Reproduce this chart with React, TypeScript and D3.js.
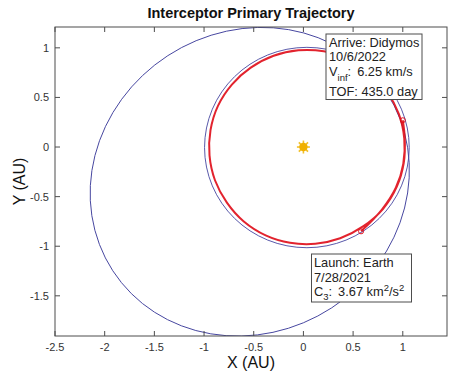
import React from 'react';
import * as d3 from 'd3';

// chart values
const xTicks = [-2.5, -2, -1.5, -1, -0.5, 0, 0.5, 1];
const xTickLabels = ['-2.5', '-2', '-1.5', '-1', '-0.5', '0', '0.5', '1'];
const yTicks = [-1.5, -1, -0.5, 0, 0.5, 1];
const yTickLabels = ['-1.5', '-1', '-0.5', '0', '0.5', '1'];
const xDomain = [-2.5, 1.445];
const yDomain = [-1.905, 1.21];

// orbits: centre, semi axes (AU), tilt (deg)
const orbitNames = ['Earth', 'Didymos'];
const orbitCx = [0.035, -0.54];
const orbitCy = [-0.005, -0.35];
const orbitA = [1.03, 1.644];
const orbitB = [1.01, 1.516];
const orbitTilt = [0, 33];

// transfer trajectory (AU)
const trajX = [0.58, 0.79, 0.93, 1.005, 1.015, 0.96, 0.84, 0.67, 0.45, 0.205, -0.05, -0.3, -0.53, -0.72, -0.86, -0.935, -0.945, -0.89, -0.77, -0.6, -0.38, -0.135, 0.12, 0.37, 0.6, 0.8, 0.94, 1.01, 1.02, 1.0];
const trajY = [-0.85, -0.63, -0.41, -0.17, 0.085, 0.335, 0.56, 0.75, 0.89, 0.965, 0.975, 0.92, 0.8, 0.63, 0.415, 0.17, -0.085, -0.335, -0.56, -0.75, -0.89, -0.965, -0.975, -0.92, -0.8, -0.625, -0.4, -0.16, 0.09, 0.27];

const launchPoint = [0.58, -0.85];
const arrivePoint = [1.0, 0.27];

const W = 474, H = 375;
const margin = { left: 55, right: 27, top: 27, bottom: 39 };
const font = 'Liberation Sans, Arial, Helvetica, sans-serif';

export default function App() {
  const x = d3.scaleLinear().domain(xDomain).range([margin.left, W - margin.right]);
  const y = d3.scaleLinear().domain(yDomain).range([H - margin.bottom, margin.top]);
  const x0 = margin.left, x1 = W - margin.right, y0 = margin.top, y1 = H - margin.bottom;

  const line = d3.line<number>()
    .x((_, i) => x(trajX[i]))
    .y((_, i) => y(trajY[i]))
    .curve(d3.curveCatmullRom);

  const sx = (v: number) => x(v) - x(0);
  const sy = (v: number) => y(0) - y(v);

  const axisColor = '#4d4d4d';
  const tickLen = 5;
  const blue = '#4646a0';
  const red = '#e0101c';

  // sun rays
  const rays = d3.range(8).map(i => (i * Math.PI) / 4);

  return (
    <svg width={W} height={H} style={{ position: 'absolute', left: 0, top: 0, background: '#fff' }} fontFamily={font}>
      <defs>
        <clipPath id="plot-clip">
          <rect x={x0} y={y0} width={x1 - x0} height={y1 - y0} />
        </clipPath>
      </defs>
      <rect x={0} y={0} width={W} height={H} fill="#fff" />

      <g clipPath="url(#plot-clip)">
        {orbitNames.map((n, i) => (
          <ellipse key={n}
            cx={x(orbitCx[i])} cy={y(orbitCy[i])}
            rx={sx(orbitA[i])} ry={sy(orbitB[i])}
            transform={`rotate(${-orbitTilt[i]} ${x(orbitCx[i])} ${y(orbitCy[i])})`}
            fill="none" stroke={blue} strokeWidth={0.9} />
        ))}
        <path d={line(trajX) || ''} fill="none" stroke={red} strokeWidth={2} strokeLinejoin="round" opacity={0.92} />
        {[launchPoint, arrivePoint].map((p, i) => (
          <circle key={i} cx={x(p[0])} cy={y(p[1])} r={2.5} fill="none" stroke={red} strokeWidth={1} />
        ))}
        <g transform={`translate(${x(0)},${y(0)})`}>
          {rays.map((a, i) => (
            <line key={i} x1={Math.cos(a) * 3} y1={Math.sin(a) * 3} x2={Math.cos(a) * 6.5} y2={Math.sin(a) * 6.5}
              stroke="#f2c02a" strokeWidth={1.6} />
          ))}
          <circle r={4.2} fill="#f0b000" />
        </g>
      </g>

      {/* frame + ticks */}
      <rect x={x0} y={y0} width={x1 - x0} height={y1 - y0} fill="none" stroke={axisColor} strokeWidth={1} />
      {xTicks.map((t, i) => (
        <g key={'x' + i}>
          <line x1={x(t)} x2={x(t)} y1={y1} y2={y1 - tickLen} stroke={axisColor} />
          <line x1={x(t)} x2={x(t)} y1={y0} y2={y0 + tickLen} stroke={axisColor} />
          <text x={x(t)} y={y1 + 15} fontSize={11} textAnchor="middle" fill="#333">{xTickLabels[i]}</text>
        </g>
      ))}
      {yTicks.map((t, i) => (
        <g key={'y' + i}>
          <line x1={x0} x2={x0 + tickLen} y1={y(t)} y2={y(t)} stroke={axisColor} />
          <line x1={x1} x2={x1 - tickLen} y1={y(t)} y2={y(t)} stroke={axisColor} />
          <text x={x0 - 6} y={y(t) + 4} fontSize={11} textAnchor="end" fill="#333">{yTickLabels[i]}</text>
        </g>
      ))}

      {/* info boxes */}
      <g>
        <rect x={326} y={34} width={96} height={65.5} fill="#fff" stroke={axisColor} strokeWidth={1} />
        <text x={329} y={47} fontSize={12.8} fill="#222">Arrive: Didymos</text>
        <text x={329} y={61.3} fontSize={12.8} fill="#222">10/6/2022</text>
        <text x={329} y={75.5} fontSize={12.8} fill="#222">
          V<tspan dy={5} fontSize={9.5}>inf</tspan><tspan dy={-5}>:</tspan><tspan dx={6}>6.25 km/s</tspan>
        </text>
        <text x={329} y={96} fontSize={12.8} fill="#222">TOF: 435.0 day</text>
      </g>
      <g>
        <rect x={311.5} y={254} width={100} height={48} fill="#fff" stroke={axisColor} strokeWidth={1} />
        <text x={314} y={267.2} fontSize={12.8} fill="#222">Launch: Earth</text>
        <text x={314} y={281.6} fontSize={12.8} fill="#222">7/28/2021</text>
        <text x={314} y={296} fontSize={12.8} fill="#222">
          C<tspan dy={4} fontSize={9.5}>3</tspan><tspan dy={-4}>:</tspan><tspan dx={6}>3.67 km</tspan><tspan dy={-5} fontSize={9.5}>2</tspan><tspan dy={5}>/s</tspan><tspan dy={-5} fontSize={9.5}>2</tspan>
        </text>
      </g>

      {/* titles */}
      <text x={(x0 + x1) / 2} y={18} fontSize={14.5} fontWeight="bold" textAnchor="middle" fill="#111">Interceptor Primary Trajectory</text>
      <text x={(x0 + x1) / 2} y={368} fontSize={16} textAnchor="middle" fill="#111">X (AU)</text>
      <text transform={`translate(25,${(y0 + y1) / 2}) rotate(-90)`} fontSize={16} textAnchor="middle" fill="#111">Y (AU)</text>
    </svg>
  );
}
